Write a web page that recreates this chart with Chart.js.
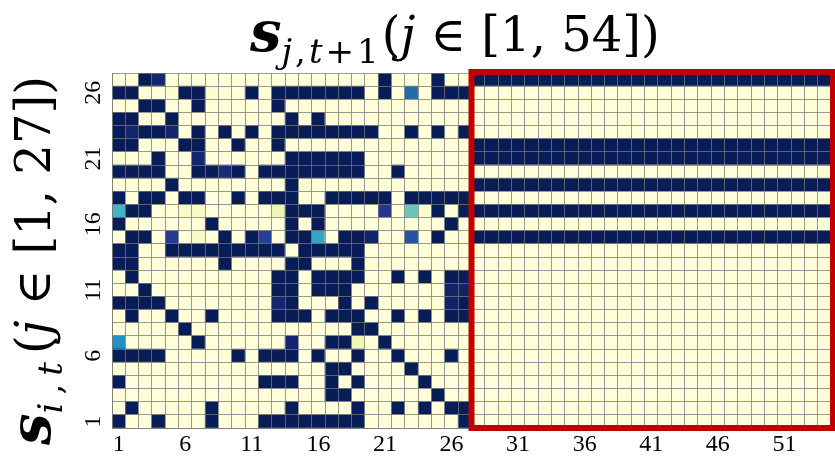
<!DOCTYPE html>
<html><head><meta charset="utf-8">
<script src="https://cdn.jsdelivr.net/npm/chart.js@4"></script>
<style>
html,body{margin:0;padding:0;background:#fff;}
#wrap{position:relative;width:835px;height:459px;overflow:hidden;}
#c{position:absolute;left:0;top:0;}
.ttl{position:absolute;font-family:"DejaVu Serif",serif;color:#000;white-space:nowrap;font-size:48px;line-height:56px;height:56px;}
.ttl .s{font-weight:bold;font-style:italic;font-size:56px;}
.ttl .sub{font-size:34px;vertical-align:-12px;letter-spacing:3px;}
.ttl .i{font-style:italic;}
#ttop{left:250px;top:3px;}
#tleft{left:2px;top:445px;transform-origin:0 0;transform:rotate(-90deg);}
#tleft .sub{letter-spacing:8px;}
</style></head>
<body>
<div id="wrap">
<canvas id="c" width="835" height="459"></canvas>
<div class="ttl" id="ttop"><span class="s">s</span><span class="sub"><span class="i">j</span>,<span class="i">t</span>+1</span>(<span class="i">j</span> ∈ [1, 54])</div>
<div class="ttl" id="tleft"><span class="s">s</span><span class="sub"><span class="i">i</span>,<span class="i">t</span></span>(<span class="i">j</span> ∈ [1, 27])</div>
</div>
<script>
const colLabels = ['1','2','3','4','5','6','7','8','9','10','11','12','13','14','15','16','17','18','19','20','21','22','23','24','25','26','27','28','29','30','31','32','33','34','35','36','37','38','39','40','41','42','43','44','45','46','47','48','49','50','51','52','53','54'];
const rowLabels = ['1','2','3','4','5','6','7','8','9','10','11','12','13','14','15','16','17','18','19','20','21','22','23','24','25','26','27'];
const xTickShown = ['1','6','11','16','21','26','31','36','41','46','51'];
const yTickShown = ['1','6','11','16','21','26'];
const highlightFrom = '28';

// cell values, columns 1..54 (groups of 10)
const row27 = [0,0,1,0.95,0,0,0,0,0,0, 0,0,0,0,0,0,0,0,0,0, 1,0,0,0,1,0,0,1,1,1, 1,1,1,1,1,1,1,1,1,1, 1,1,1,1,1,1,1,1,1,1, 1,1,1,1];
const row26 = [1,1,0,0,0.03,1,1,0.03,0,0, 1,0,1,1,1,1,1,1,1,0, 1,0,0.72,0,1,1,1,0,0,0, 0,0,0,0,0,0,0,0,0,0, 0,0,0,0,0,0,0,0,0,0, 0,0,0,0];
const row25 = [0,0,1,1,0,0,1,0,0,0, 0,0,1,0,0,0,0,0,0,0, 0,0,0,0,0,0,0,0,0,0, 0,0,0,0,0,0,0,0,0,0, 0,0,0,0,0,0,0,0,0,0, 0,0,0,0];
const row24 = [1,1,0,0,1,0,0,0,0,0, 0,0,0,1,0,1,0,0,0,0, 0,0,0,0,0,0,0,0,0,0, 0,0,0,0,0,0,0,0,0,0, 0,0,0,0,0,0,0,0,0,0, 0,0,0,0];
const row23 = [1,0.95,1,1,0.95,0,1,0,1,0, 1,0,1,1,1,1,1,1,1,1, 0,0,1,0,1,0,1,0,0,0, 0,0,0,0,0,0,0,0,0,0, 0,0,0,0,0,0,0,0,0,0, 0,0,0,0];
const row22 = [1,1,0,0,0,1,1,0,0,1, 0,0,1,0,0,0,0,0,0,0, 0,0,0,0,0,0,0,1,1,1, 1,1,1,1,1,1,1,1,1,1, 1,1,1,1,1,1,1,1,1,1, 1,1,1,1];
const row21 = [0,0,0,1,0,0,0.95,0,0,0, 0,0,0,1,1,1,1,1,1,0, 0,0,0,0,0,0,0,1,1,1, 1,1,1,1,1,1,1,1,1,1, 1,1,1,1,1,1,1,1,1,1, 1,1,1,1];
const row20 = [1,1,1,1,0,0,1,1,0.93,1, 0,1,1,1,1,1,1,1,1,0, 0,1,0,0,0,0,0,0,0,0, 0,0,0,0,0,0,0,0,0,0, 0,0,0,0,0,0,0,0,0,0, 0,0,0,0];
const row19 = [0,0,0,0,1,0,0,0,0,0, 0,0,0,1,0.04,0,0,0,0,0, 0,0,0,0,0,0,0,1,1,1, 1,1,1,1,1,1,1,1,1,1, 1,1,1,1,1,1,1,1,1,1, 1,1,1,1];
const row18 = [1,0,1,1,0,1,1,0,0,1, 0,1,1,1,0,0,1,1,1,1, 1,0,1,1,1,1,1,0,0,0, 0,0,0,0,0,0,0,0,0,0, 0,0,0,0,0,0,0,0,0,0, 0,0,0,0];
const row17 = [0.5,1,1,0,0,0.06,0.06,0,0,0, 0,0,0.12,1,1,1,0,0,0,0, 0.87,0,0.42,0.03,1,0,1,1,1,1, 1,1,1,1,1,1,1,1,1,1, 1,1,1,1,1,1,1,1,1,1, 1,1,1,1];
const row16 = [1,0,0,0,0,0,0,1,0,0, 0,0,0,1,0,1,0,0,0,0, 0,0,0,0,0,1,0,0,0,0, 0,0,0,0,0,0,0,0,0,0, 0,0,0,0,0,0,0,0,0,0, 0,0,0,0];
const row15 = [0,1,1,0,0.86,0,0.06,0,1,0, 1,0.84,0,1,1,0.55,0,1,1,0.96, 0,0,0.78,0,1,0,0,1,1,1, 1,1,1,1,1,1,1,1,1,1, 1,1,1,1,1,1,1,1,1,1, 1,1,1,1];
const row14 = [1,1,0,0,1,1,1,1,1,1, 1,1,1,0,1,1,1,1,1,0, 0,0,0,0,0,0,0,0,0,0, 0,0,0,0,0,0,0,0,0,0, 0,0,0,0,0,0,0,0,0,0, 0,0,0,0];
const row13 = [1,1,0,0,0,0,0,0,1,0, 0,0,0,1,1,0,0,0,1,0, 0,0,0,0,0,0,0,0,0,0, 0,0,0,0,0,0,0,0,0,0, 0,0,0,0,0,0,0,0,0,0, 0,0,0,0];
const row12 = [0,1,0,0,0,0,0,0,0,0, 0,0,1,1,0,1,1,1,1,0, 0,1,0,1,0,1,1,0,0,0, 0,0,0,0,0,0,0,0,0,0, 0,0,0,0,0,0,0,0,0,0, 0,0,0,0];
const row11 = [0,0,1,0,0,0,0,0,0,0, 0,0,1,1,0,1,1,1,0,0, 0,0,0,0,0,0.97,0.97,0,0,0, 0,0,0,0,0,0,0,0,0,0, 0,0,0,0,0,0,0,0,0,0, 0,0,0,0];
const row10 = [1,1,1,1,0,0,0,0,0,0, 0,0,0.95,1,0,0,0,1,0,1, 0,0,0,0,0,0.96,1,0,0,0, 0,0,0,0,0,0,0,0,0,0, 0,0,0,0,0,0,0,0,0,0, 0,0,0,0];
const row9  = [0,1,0,0,1,0,0,1,0,0, 0,0,1,1,1,0,1,1,1,0, 0,1,0,1,0,1,1,0,0,0, 0,0,0,0,0,0,0,0,0,0, 0,0,0,0,0,0,0,0,0,0, 0,0,0,0];
const row8  = [0,0,0,0,0,1,0,0,0,0, 0,0,0,0,0,0,0,0,1,1, 0,0,0,0,0,0,0,0,0,0, 0,0,0,0,0,0,0,0,0,0, 0,0,0,0,0,0,0,0,0,0, 0,0,0,0];
const row7  = [0.62,0,0,0,0,0,1,0,0,0, 0,0,0,0.95,0,0,1,1,0.12,0, 1,0,0,0,0,0,0,0,0,0, 0,0,0,0,0,0,0,0,0,0, 0,0,0,0,0,0,0,0,0,0, 0,0,0,0];
const row6  = [1,1,1,1,0,0,0,0,0,1, 0,1,1,1,0,1,0,0,1,0, 0,1,0,0,0,1,0,0,0,0, 0,0,0,0,0,0,0,0,0,0, 0,0,0,0,0,0,0,0,0,0, 0,0,0,0];
const row5  = [0,0,0,0,0,0,0,0,0,0, 0,0,0,0,0,0,1,1,0,0, 0,0,1,0,0,0,0,0,0,0, 0,0,0,0,0,0,0,0,0,0, 0,0,0,0,0,0,0,0,0,0, 0,0,0,0];
const row4  = [1,0,0,0,0,0,0,0,0,0, 0,1,1,1,0,0,1,0,1,0, 0,0,0,1,0,0,0,0,0,0, 0,0,0,0,0,0,0,0,0,0, 0,0,0,0,0,0,0,0,0,0, 0,0,0,0];
const row3  = [0,0,0,0,0,0,0,0,0,0, 0,0,0,0,0,0,1,1,0,0, 0,0,0,0,1,0,0,0,0,0, 0,0,0,0,0,0,0,0,0,0, 0,0,0,0,0,0,0,0,0,0, 0,0,0,0];
const row2  = [0,1,0,0,0,0,0,1,0,0, 0,0,0,1,0,0,0,0,1,0, 0,1,0,1,0,1,1,0,0,0, 0,0,0,0,0,0,0,0,0,0, 0,0,0,0,0,0,0,0,0,0, 0,0,0,0];
const row1  = [1,0,0,1,0,0,0,1,0,0, 0,1,1,1,1,1,1,1,1,0, 0,0,0,0,0,0,1,0,0,0, 0,0,0,0,0,0,0,0,0,0, 0,0,0,0,0,0,0,0,0,0, 0,0,0,0];

const rows = [row1,row2,row3,row4,row5,row6,row7,row8,row9,row10,row11,row12,row13,row14,row15,row16,row17,row18,row19,row20,row21,row22,row23,row24,row25,row26,row27];

// YlGnBu colour scale
const ylgnbu = ['#ffffd9','#edf8b1','#c7e9b4','#7fcdbb','#41b6c4','#1d91c0','#225ea8','#253494','#081d58'];
function hex(h){return [parseInt(h.slice(1,3),16),parseInt(h.slice(3,5),16),parseInt(h.slice(5,7),16)];}
function colorFor(v){
  const t = Math.max(0,Math.min(1,v))*(ylgnbu.length-1);
  const i = Math.min(Math.floor(t), ylgnbu.length-2);
  const f = t-i;
  const a = hex(ylgnbu[i]), b = hex(ylgnbu[i+1]);
  const c = a.map((x,k)=>Math.round(x+(b[k]-x)*f));
  return 'rgb('+c.join(',')+')';
}

const datasets = rows.map((r,i)=>({
  label: rowLabels[i],
  data: r.map(()=>1),
  backgroundColor: r.map(colorFor),
  borderWidth: 0,
  barPercentage: 1,
  categoryPercentage: 1,
  stack: 'cells',
  yAxisID: 'y'
}));

const gridColor = 'rgba(120,120,120,0.75)';
const tickFont = {family:'"Liberation Serif", serif', size:24};

const redBox = {
  id:'redBox',
  afterDraw(chart){
    const {ctx, chartArea:a, scales:{x}} = chart;
    const k = colLabels.indexOf(highlightFrom);
    const left = (x.getPixelForValue(k-1)+x.getPixelForValue(k))/2;
    ctx.save();
    ctx.strokeStyle = '#c00000';
    ctx.lineWidth = 6;
    ctx.strokeRect(left, a.top-1, a.right-left+2, a.bottom-a.top+1);
    ctx.restore();
  }
};

new Chart(document.getElementById('c'), {
  type:'bar',
  data:{labels: colLabels, datasets},
  options:{
    responsive:false, animation:false,
    layout:{padding:{top:73,right:4,left:0,bottom:0}},
    plugins:{legend:{display:false}, tooltip:{enabled:false}, title:{display:false}},
    scales:{
      x:{
        type:'category', stacked:true, offset:true,
        grid:{offset:true, color:gridColor, lineWidth:1, drawTicks:false, z:1},
        border:{display:true, color:gridColor, z:1},
        ticks:{autoSkip:false, maxRotation:0, minRotation:0, padding:2, color:'#000', font:tickFont,
          callback:(v,i)=> xTickShown.includes(colLabels[i]) ? colLabels[i] : ''},
        afterFit:(s)=>{s.height=31;}
      },
      y:{
        type:'linear', stacked:true, min:0, max:27, position:'left',
        grid:{color:gridColor, lineWidth:1, drawTicks:false, z:1},
        border:{display:true, color:gridColor, z:1},
        ticks:{display:false, stepSize:1},
        afterFit:(s)=>{s.width=0;}
      },
      yl:{
        type:'linear', min:0, max:27, position:'left',
        grid:{display:false, drawTicks:false}, border:{display:false},
        afterBuildTicks:(s)=>{ s.ticks = yTickShown.map(t=>({value: Number(t)-0.5})); },
        ticks:{minRotation:90, maxRotation:90, crossAlign:'center', padding:6, color:'#000', font:tickFont,
          callback:(v)=> yTickShown.find(t=>Number(t)-0.5===v) || ''},
        afterFit:(s)=>{s.width=112;}
      }
    }
  },
  plugins:[redBox]
});
</script>
</body></html>
